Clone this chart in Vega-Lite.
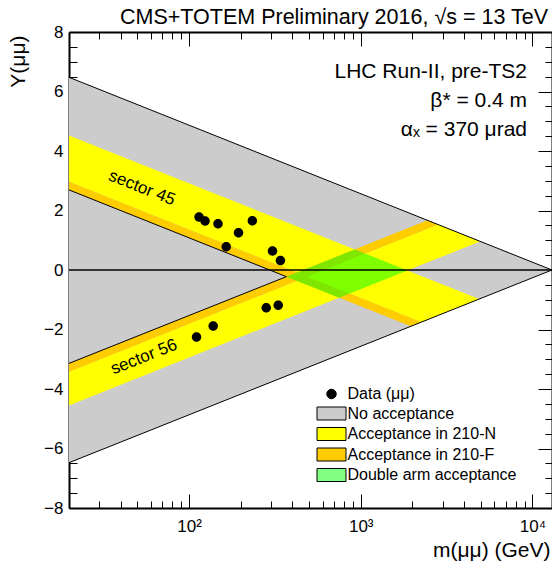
{
  "$schema": "https://vega.github.io/schema/vega-lite/v6.json",
  "width": 483,
  "height": 476,
  "autosize": {"type": "none"},
  "padding": {"left": 69, "top": 32, "right": 0, "bottom": 59},
  "background": "white",
  "title": {"text": "CMS+TOTEM Preliminary 2016, √s = 13 TeV", "anchor": "end", "frame": "group", "fontSize": 21.5, "fontWeight": "normal", "font": "Liberation Sans", "color": "black", "baseline": "alphabetic", "offset": 7, "dx": -4, "dy": 29},
  "config": {
    "view": {"stroke": null},
    "font": "Liberation Sans",
    "axis": {"grid": false, "zindex": 1, "domainColor": "black", "tickColor": "black", "labelColor": "black", "titleColor": "black", "labelFont": "Liberation Sans", "titleFont": "Liberation Sans", "labelFontSize": 17, "titleFontSize": 21, "titleFontWeight": "normal", "domainWidth": 2, "tickWidth": 1, "labelFlush": false, "labelOverlap": false},
    "legend": {"orient": "none", "legendX": 251.5, "legendY": 351, "symbolSize": 441, "labelFont": "Liberation Sans", "labelFontSize": 16, "labelColor": "black", "rowPadding": 0.5, "labelOffset": 5, "padding": 0, "symbolStrokeColor": "black", "symbolStrokeWidth": 1, "labelLimit": 0}
  },
  "datasets": {
    "gray": [{"m": 20, "y": 6.477, "y2": -6.477}, {"m": 13000, "y": 0, "y2": 0}],
    "yel45": [{"m": 20, "y": 4.525, "y2": 2.970}, {"m": 2251.7, "y": -0.1987, "y2": -1.7533}, {"m": 4898.8, "y": -0.9759, "y2": -0.9759}],
    "yel56": [{"m": 20, "y": -3.4194, "y2": -4.5528}, {"m": 2818.3, "y": 1.5288, "y2": 0.3953}, {"m": 4967.3, "y": 0.9621, "y2": 0.9621}],
    "or45": [{"m": 20, "y": 2.970, "y2": 2.692}, {"m": 1958.7, "y": -1.6139, "y2": -1.8927}, {"m": 2251.7, "y": -1.7533, "y2": -1.7533}],
    "or56": [{"m": 20, "y": -3.1388, "y2": -3.4194}, {"m": 2449.4, "y": 1.6691, "y2": 1.3885}, {"m": 2818.3, "y": 1.5288, "y2": 1.5288}],
    "green": [{"m": 369, "y": -0.224, "y2": -0.224}, {"m": 748, "y": 0.483, "y2": -0.930}, {"m": 923, "y": 0.693, "y2": -0.721}, {"m": 1872, "y": -0.014, "y2": -0.014}],
    "edges": [
      {"grp": "outer", "ord": 1, "m": 20, "y": 6.477},
      {"grp": "outer", "ord": 2, "m": 13000, "y": 0},
      {"grp": "outer", "ord": 3, "m": 20, "y": -6.477},
      {"grp": "wedge", "ord": 1, "m": 20, "y": 2.692},
      {"grp": "wedge", "ord": 2, "m": 369, "y": -0.224},
      {"grp": "wedge", "ord": 3, "m": 20, "y": -3.139}
    ],
    "zero": [{"y": 0}],
    "pts": [
      {"m": 114.4, "y": 1.782, "cat": "Data (μμ)"},
      {"m": 124.0, "y": 1.647, "cat": "Data (μμ)"},
      {"m": 147.5, "y": 1.556, "cat": "Data (μμ)"},
      {"m": 194.2, "y": 1.254, "cat": "Data (μμ)"},
      {"m": 233.7, "y": 1.657, "cat": "Data (μμ)"},
      {"m": 164.7, "y": 0.780, "cat": "Data (μμ)"},
      {"m": 306.3, "y": 0.639, "cat": "Data (μμ)"},
      {"m": 340.7, "y": 0.319, "cat": "Data (μμ)"},
      {"m": 110.6, "y": -2.252, "cat": "Data (μμ)"},
      {"m": 138.3, "y": -1.882, "cat": "Data (μμ)"},
      {"m": 281.6, "y": -1.267, "cat": "Data (μμ)"},
      {"m": 330.8, "y": -1.183, "cat": "Data (μμ)"}
    ],
    "s45": [{"m": 53.2, "y": 2.756, "t": "sector 45"}],
    "s56": [{"m": 54.7, "y": -2.924, "t": "sector 56"}],
    "notes": [
      {"m": 9303, "y": 6.655, "t": "LHC Run-II, pre-TS2"},
      {"m": 9303, "y": 5.681, "t": "β* = 0.4 m"},
      {"m": 9303, "y": 4.706, "t": "αₓ = 370 μrad"}
    ]
  },
  "resolve": {"axis": {"x": "independent", "y": "independent"}},
  "layer": [
    {
      "data": {"name": "gray"},
      "mark": {"type": "area", "color": "#cccccc", "opacity": 1},
      "encoding": {
        "x": {"field": "m", "type": "quantitative", "scale": {"type": "log", "domain": [20, 13000], "nice": false},
              "axis": {"orient": "bottom", "values": [100, 1000, 10000], "labelExpr": "datum.value == 100 ? '10²' : datum.value == 1000 ? '10³' : '10⁴'", "tickSize": -14, "labelPadding": 24, "title": "m(μμ) (GeV)", "titleAnchor": "end", "titleAlign": "right", "titleBaseline": "alphabetic", "titleX": 481, "titleY": 48}},
        "y": {"field": "y", "type": "quantitative", "scale": {"domain": [-8, 8], "nice": false, "zero": false},
              "axis": {"orient": "left", "values": [-8, -6, -4, -2, 0, 2, 4, 6, 8], "format": "d", "tickSize": -15, "labelPadding": 21, "title": "Y(μμ)", "titleAngle": 270, "titleAlign": "right", "titleBaseline": "middle", "titleX": -51, "titleY": 3}},
        "y2": {"field": "y2"}
      }
    },
    {
      "data": {"name": "yel45"},
      "mark": {"type": "area", "color": "#ffff00", "opacity": 1},
      "encoding": {
        "x": {"field": "m", "type": "quantitative", "scale": {"type": "log", "domain": [20, 13000], "nice": false},
              "axis": {"orient": "bottom", "values": [30, 40, 50, 60, 70, 80, 90, 200, 300, 400, 500, 600, 700, 800, 900, 2000, 3000, 4000, 5000, 6000, 7000, 8000, 9000], "labels": false, "tickSize": -7, "domain": false, "title": null}},
        "y": {"field": "y", "type": "quantitative", "scale": {"domain": [-8, 8], "nice": false, "zero": false},
              "axis": {"orient": "left", "values": [-7.5, -7, -6.5, -5.5, -5, -4.5, -3.5, -3, -2.5, -1.5, -1, -0.5, 0.5, 1, 1.5, 2.5, 3, 3.5, 4.5, 5, 5.5, 6.5, 7, 7.5], "labels": false, "tickSize": -8, "domain": false, "title": null}},
        "y2": {"field": "y2"}
      }
    },
    {
      "data": {"name": "yel56"},
      "mark": {"type": "area", "color": "#ffff00", "opacity": 1},
      "encoding": {
        "x": {"field": "m", "type": "quantitative", "scale": {"type": "log", "domain": [20, 13000], "nice": false},
              "axis": {"orient": "top", "values": [100, 1000, 10000], "labels": false, "tickSize": -14, "title": null}},
        "y": {"field": "y", "type": "quantitative", "scale": {"domain": [-8, 8], "nice": false, "zero": false},
              "axis": {"orient": "right", "values": [-8, -6, -4, -2, 0, 2, 4, 6, 8], "labels": false, "tickSize": -14, "title": null}},
        "y2": {"field": "y2"}
      }
    },
    {
      "data": {"name": "or45"},
      "mark": {"type": "area", "color": "#ffcc00", "opacity": 1},
      "encoding": {
        "x": {"field": "m", "type": "quantitative", "scale": {"type": "log", "domain": [20, 13000], "nice": false},
              "axis": {"orient": "top", "values": [30, 40, 50, 60, 70, 80, 90, 200, 300, 400, 500, 600, 700, 800, 900, 2000, 3000, 4000, 5000, 6000, 7000, 8000, 9000], "labels": false, "tickSize": -7, "domain": false, "title": null}},
        "y": {"field": "y", "type": "quantitative", "scale": {"domain": [-8, 8], "nice": false, "zero": false},
              "axis": {"orient": "right", "values": [-7.5, -7, -6.5, -5.5, -5, -4.5, -3.5, -3, -2.5, -1.5, -1, -0.5, 0.5, 1, 1.5, 2.5, 3, 3.5, 4.5, 5, 5.5, 6.5, 7, 7.5], "labels": false, "tickSize": -7, "domain": false, "title": null}},
        "y2": {"field": "y2"}
      }
    },
    {
      "data": {"name": "or56"},
      "mark": {"type": "area", "color": "#ffcc00", "opacity": 1},
      "encoding": {
        "x": {"field": "m", "type": "quantitative", "scale": {"type": "log", "domain": [20, 13000], "nice": false}, "axis": null},
        "y": {"field": "y", "type": "quantitative", "scale": {"domain": [-8, 8], "nice": false, "zero": false}, "axis": null},
        "y2": {"field": "y2"}
      }
    },
    {
      "data": {"name": "green"},
      "mark": {"type": "area", "color": "#00ff00", "opacity": 0.5},
      "encoding": {
        "x": {"field": "m", "type": "quantitative", "scale": {"type": "log", "domain": [20, 13000], "nice": false}, "axis": null},
        "y": {"field": "y", "type": "quantitative", "scale": {"domain": [-8, 8], "nice": false, "zero": false}, "axis": null},
        "y2": {"field": "y2"}
      }
    },
    {
      "data": {"name": "edges"},
      "mark": {"type": "line", "color": "black", "strokeWidth": 1},
      "encoding": {
        "x": {"field": "m", "type": "quantitative", "scale": {"type": "log", "domain": [20, 13000], "nice": false}, "axis": null},
        "y": {"field": "y", "type": "quantitative", "scale": {"domain": [-8, 8], "nice": false, "zero": false}, "axis": null},
        "detail": {"field": "grp"},
        "order": {"field": "ord", "type": "quantitative"}
      }
    },
    {
      "data": {"name": "zero"},
      "mark": {"type": "rule", "color": "black", "strokeWidth": 1.5},
      "encoding": {
        "y": {"field": "y", "type": "quantitative", "scale": {"domain": [-8, 8], "nice": false, "zero": false}, "axis": null}
      }
    },
    {
      "data": {"name": "pts"},
      "mark": {"type": "point", "filled": true, "size": 441, "opacity": 1, "strokeWidth": 0},
      "encoding": {
        "x": {"field": "m", "type": "quantitative", "scale": {"type": "log", "domain": [20, 13000], "nice": false}, "axis": null},
        "y": {"field": "y", "type": "quantitative", "scale": {"domain": [-8, 8], "nice": false, "zero": false}, "axis": null},
        "color": {"field": "cat", "type": "nominal", "title": null,
                  "scale": {"domain": ["Data (μμ)", "No acceptance", "Acceptance in 210-N", "Acceptance in 210-F", "Double arm acceptance"], "range": ["#000000", "#cccccc", "#ffff00", "#ffcc00", "#80ff80"]}},
        "shape": {"field": "cat", "type": "nominal", "title": null,
                  "scale": {"domain": ["Data (μμ)", "No acceptance", "Acceptance in 210-N", "Acceptance in 210-F", "Double arm acceptance"], "range": ["M-0.45,0A0.45,0.45,0,1,1,0.45,0A0.45,0.45,0,1,1,-0.45,0Z", "M-1.381,-0.619L1.381,-0.619L1.381,0.619L-1.381,0.619Z", "M-1.381,-0.619L1.381,-0.619L1.381,0.619L-1.381,0.619Z", "M-1.381,-0.619L1.381,-0.619L1.381,0.619L-1.381,0.619Z", "M-1.381,-0.619L1.381,-0.619L1.381,0.619L-1.381,0.619Z"]}}
      }
    },
    {
      "data": {"name": "s45"},
      "mark": {"type": "text", "angle": 21.75, "fontSize": 17, "align": "center", "baseline": "middle", "color": "black"},
      "encoding": {
        "x": {"field": "m", "type": "quantitative", "scale": {"type": "log", "domain": [20, 13000], "nice": false}, "axis": null},
        "y": {"field": "y", "type": "quantitative", "scale": {"domain": [-8, 8], "nice": false, "zero": false}, "axis": null},
        "text": {"field": "t"}
      }
    },
    {
      "data": {"name": "s56"},
      "mark": {"type": "text", "angle": 338.25, "fontSize": 17, "align": "center", "baseline": "middle", "color": "black"},
      "encoding": {
        "x": {"field": "m", "type": "quantitative", "scale": {"type": "log", "domain": [20, 13000], "nice": false}, "axis": null},
        "y": {"field": "y", "type": "quantitative", "scale": {"domain": [-8, 8], "nice": false, "zero": false}, "axis": null},
        "text": {"field": "t"}
      }
    },
    {
      "data": {"name": "notes"},
      "mark": {"type": "text", "fontSize": 21, "align": "right", "baseline": "middle", "color": "black"},
      "encoding": {
        "x": {"field": "m", "type": "quantitative", "scale": {"type": "log", "domain": [20, 13000], "nice": false}, "axis": null},
        "y": {"field": "y", "type": "quantitative", "scale": {"domain": [-8, 8], "nice": false, "zero": false}, "axis": null},
        "text": {"field": "t"}
      }
    }
  ]
}
